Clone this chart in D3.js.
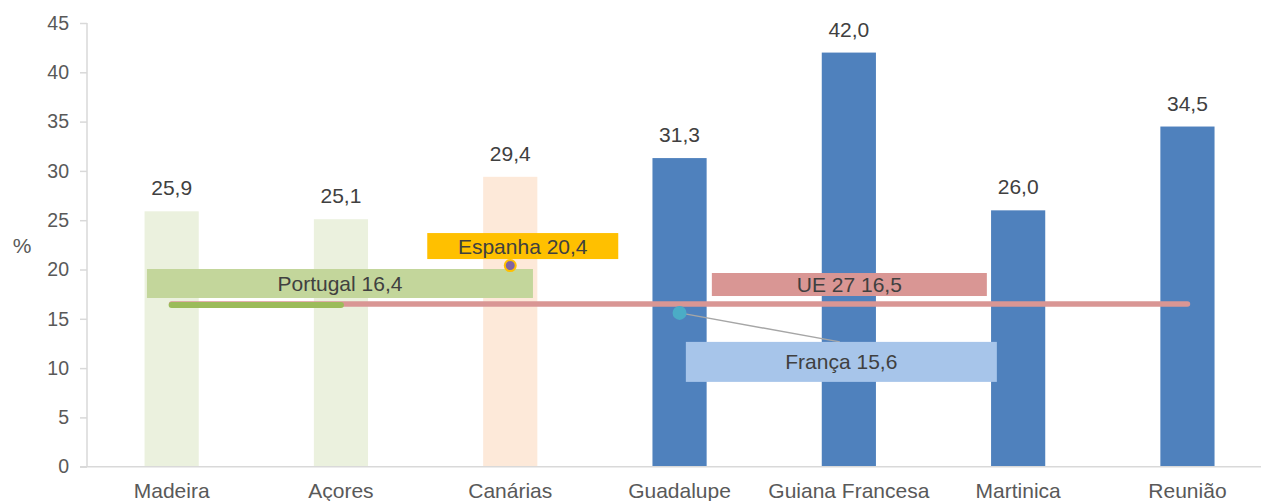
<!DOCTYPE html>
<html>
<head>
<meta charset="utf-8">
<script src="https://cdn.jsdelivr.net/npm/d3@7"></script>
<style>
  body { margin: 0; background: #fff; }
  svg text { font-family: "Liberation Sans", Arial, sans-serif; }
</style>
</head>
<body>
<script>
const width = 1261,
  height = 501;
const margin = { top: 23, left: 87, bottom: 34 };

// Regions and values (%)
const regions = ["Madeira", "Açores", "Canárias", "Guadalupe", "Guiana Francesa", "Martinica", "Reunião"];
const values = [25.9, 25.1, 29.4, 31.3, 42.0, 26.0, 34.5];
const barColors = ["#EBF1DE", "#EBF1DE", "#FDE9D9", "#4F81BD", "#4F81BD", "#4F81BD", "#4F81BD"];
const yTicks = [0, 5, 10, 15, 20, 25, 30, 35, 40, 45];

// Reference values
const portugal = 16.4;
const espanha = 20.4;
const franca = 15.6;
const ue27 = 16.5;

const fmt = v => v.toFixed(1).replace(".", ",");

const svg = d3
  .select("body")
  .append("svg")
  .attr("width", width)
  .attr("height", height);

const xScale = d3
  .scaleBand()
  .domain(regions)
  .range([margin.left, margin.left + 7 * 169.3])
  .paddingInner(0.68)
  .paddingOuter(0.34);

const yScale = d3
  .scaleLinear()
  .domain([0, 45])
  .range([height - margin.bottom - 0.3, margin.top]);

const cx = r => xScale(r) + xScale.bandwidth() / 2;

// bars
svg
  .selectAll("rect.bar")
  .data(values)
  .enter()
  .append("rect")
  .attr("class", "bar")
  .attr("x", (d, i) => xScale(regions[i]))
  .attr("y", d => yScale(d))
  .attr("width", xScale.bandwidth())
  .attr("height", d => yScale(0) - yScale(d))
  .attr("fill", (d, i) => barColors[i]);

// value labels
svg
  .selectAll("text.val")
  .data(values)
  .enter()
  .append("text")
  .attr("class", "val")
  .attr("x", (d, i) => cx(regions[i]))
  .attr("y", d => yScale(d) - 16)
  .attr("text-anchor", "middle")
  .attr("font-size", 21)
  .attr("fill", "#404040")
  .text(d => fmt(d));

// y axis
const yAxis = d3.axisLeft(yScale).tickValues(yTicks).tickSize(7).tickPadding(11);
const yg = svg
  .append("g")
  .attr("transform", `translate(${margin.left},0)`)
  .call(yAxis);
yg.selectAll("path, line").attr("stroke", "#D9D9D9").attr("stroke-width", 1.5);
yg.select(".domain").attr("d", `M0,${yScale(45)}V${yScale(0)}`);
yg.selectAll("text").attr("font-size", 19.5).attr("fill", "#595959").style("font-family", "Liberation Sans, Arial, sans-serif");

svg
  .append("text")
  .attr("x", 22)
  .attr("y", 253)
  .attr("text-anchor", "middle")
  .attr("font-size", 21)
  .attr("fill", "#595959")
  .text("%");

// x axis
svg
  .append("line")
  .attr("x1", margin.left - 7)
  .attr("x2", width)
  .attr("y1", yScale(0))
  .attr("y2", yScale(0))
  .attr("stroke", "#D9D9D9")
  .attr("stroke-width", 1.5);

svg
  .selectAll("text.cat")
  .data(regions)
  .enter()
  .append("text")
  .attr("class", "cat")
  .attr("x", d => cx(d))
  .attr("y", yScale(0) + 31.5)
  .attr("text-anchor", "middle")
  .attr("font-size", 21)
  .attr("fill", "#595959")
  .text(d => d);

// reference lines
svg
  .append("line")
  .attr("x1", cx(regions[0]))
  .attr("x2", cx(regions[6]))
  .attr("y1", yScale(ue27))
  .attr("y2", yScale(ue27))
  .attr("stroke", "#D99694")
  .attr("stroke-width", 5.5)
  .attr("stroke-linecap", "round");

svg
  .append("line")
  .attr("x1", cx(regions[0]))
  .attr("x2", cx(regions[1]))
  .attr("y1", yScale(portugal))
  .attr("y2", yScale(portugal))
  .attr("stroke", "#9BBB59")
  .attr("stroke-width", 6)
  .attr("stroke-linecap", "round");

// França leader line
svg
  .append("line")
  .attr("x1", cx(regions[3]))
  .attr("y1", yScale(franca))
  .attr("x2", cx(regions[4]) - 9)
  .attr("y2", yScale(franca) + 29)
  .attr("stroke", "#A6A6A6")
  .attr("stroke-width", 1.5);

// label boxes
function labelBox(text, xc, top, w, h, fill) {
  svg
    .append("rect")
    .attr("x", xc - w / 2)
    .attr("y", top)
    .attr("width", w)
    .attr("height", h)
    .attr("fill", fill);
  svg
    .append("text")
    .attr("x", xc)
    .attr("y", top + h / 2 + 7.5)
    .attr("text-anchor", "middle")
    .attr("font-size", 21)
    .attr("fill", "#404040")
    .text(text);
}

labelBox("Portugal " + fmt(portugal), cx(regions[1]) - 1, yScale(portugal) - 36, 386, 29, "#C3D69B");
labelBox("Espanha " + fmt(espanha), cx(regions[2]) + 12.5, yScale(espanha) - 32.5, 191, 26, "#FFC000");
labelBox("UE 27 " + fmt(ue27), cx(regions[4]) + 0.5, yScale(ue27) - 31, 275, 23, "#D99694");
labelBox("França " + fmt(franca), cx(regions[4]) - 7.5, yScale(franca) + 29, 311, 40, "#A7C5EA");

// dots
svg
  .append("circle")
  .attr("cx", cx(regions[2]))
  .attr("cy", yScale(espanha))
  .attr("r", 5.5)
  .attr("fill", "#8064A2")
  .attr("stroke", "#FFC000")
  .attr("stroke-width", 2);

svg
  .append("circle")
  .attr("cx", cx(regions[3]))
  .attr("cy", yScale(franca))
  .attr("r", 7)
  .attr("fill", "#4BACC6");
</script>
</body>
</html>
